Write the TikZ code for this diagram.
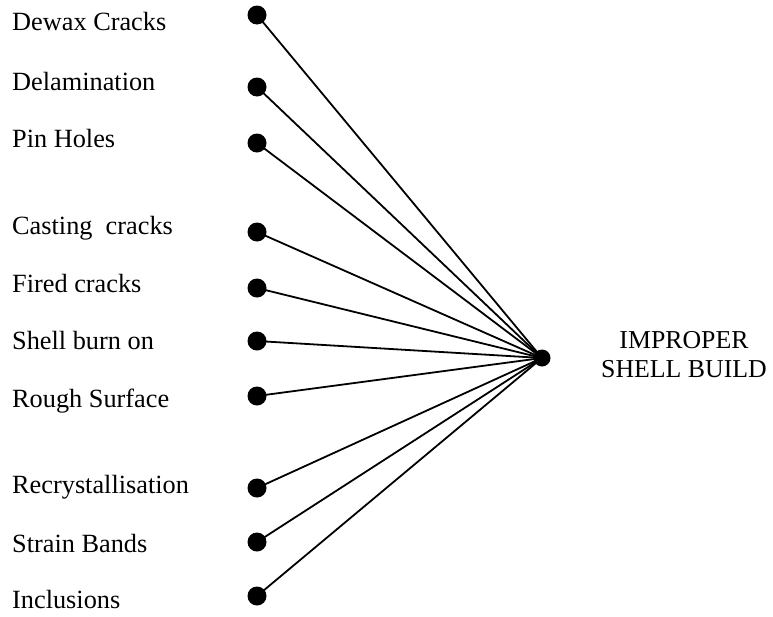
\documentclass[tikz,border=0pt]{standalone}
\usepackage{fontspec}
\setmainfont{Liberation Serif}
\begin{document}
\begin{tikzpicture}[x=1pt,y=-1pt,
  lbl/.style={anchor=base west,inner sep=0pt,font=\fontsize{26.3}{30}\selectfont},
  dot/.style={circle,fill=black,inner sep=0pt,minimum size=19pt},
  hub/.style={circle,fill=black,inner sep=0pt,minimum size=17pt},
  spoke/.style={line width=1.8pt}]
\useasboundingbox (0,0) rectangle (773,616);
% cause labels
\node[lbl] (t1) at (12,30) {Dewax Cracks};
\node[lbl] (t2) at (12,90) {Delamination};
\node[lbl] (t3) at (12,147) {Pin Holes};
\node[lbl] (t4) at (12,234) {Casting\ \ cracks};
\node[lbl] (t5) at (12,292) {Fired cracks};
\node[lbl] (t6) at (12,349) {Shell burn on};
\node[lbl] (t7) at (12,407) {Rough Surface};
\node[lbl] (t8) at (12,493) {Recrystallisation};
\node[lbl] (t9) at (12,552) {Strain Bands};
\node[lbl] (t10) at (12,608) {Inclusions};
% dots
\node[dot] (d1) at (257,15) {};
\node[dot] (d2) at (257,87) {};
\node[dot] (d3) at (257,143) {};
\node[dot] (d4) at (257,232) {};
\node[dot] (d5) at (257,288) {};
\node[dot] (d6) at (257,341) {};
\node[dot] (d7) at (257,396) {};
\node[dot] (d8) at (257,488) {};
\node[dot] (d9) at (257,542) {};
\node[dot] (d10) at (257,596) {};
% effect
\node[hub] (h) at (542,358) {};
\node[anchor=base,inner sep=0pt,align=center,font=\fontsize{25.8}{29}\selectfont] (eff) at (684,377) {IMPROPER\\SHELL BUILD};
\foreach \i in {1,...,10} \draw[spoke] (d\i.center) -- (h.center);
\end{tikzpicture}
\end{document}
